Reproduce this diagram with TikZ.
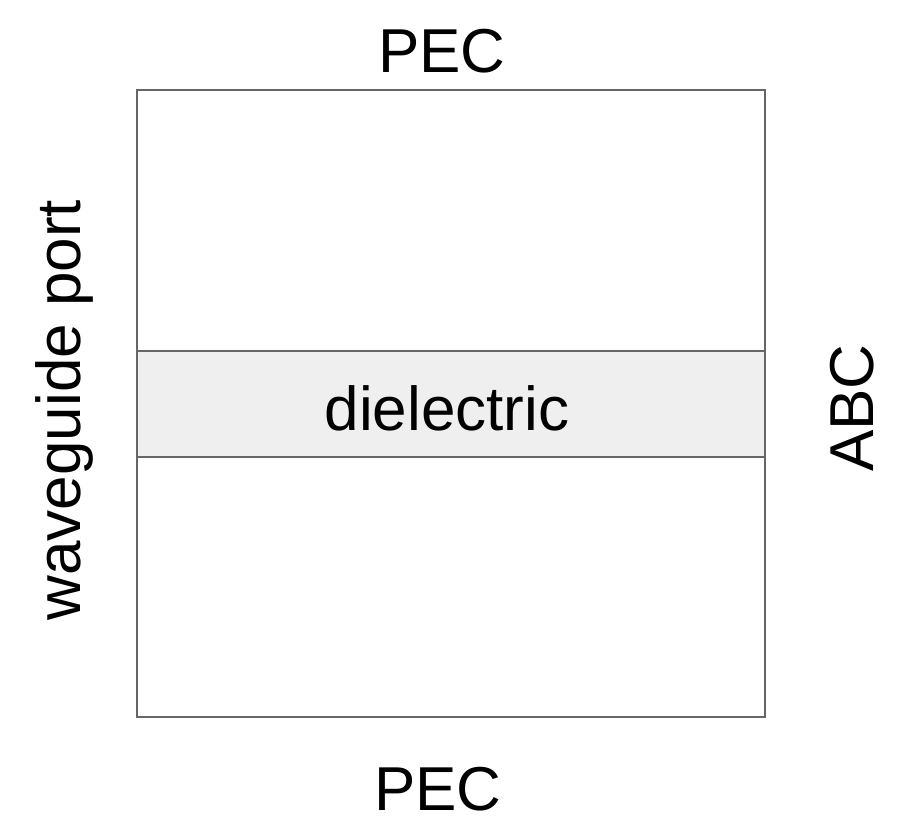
\documentclass[tikz,border=0pt]{standalone}
\usepackage{fontspec}
\setmainfont{Liberation Sans}
\usepackage{xcolor}
\usetikzlibrary{positioning}
\definecolor{edgegray}{HTML}{666666}
\definecolor{dielfill}{HTML}{EFEFEF}

\begin{document}
\begin{tikzpicture}[
  x=0.5pt, y=-0.5pt,
  label/.style={
    font=\fontsize{31}{37}\selectfont, inner sep=0pt, anchor=base
  },
  wall/.style={
    draw=edgegray, line width=1pt
  }
]
\useasboundingbox (0,0) rectangle (921,830);

% Dielectrico
\fill[dielfill] (137,351) rectangle (765,457);
\draw[wall] (137,351) -- (765,351);
\draw[wall] (137,457) -- (765,457);

% Dominio
\draw[wall] (137,90) rectangle (765,717);

% Etiquetas
\node[label] (pectop) at (442,72) {PEC};
\node[label] (pecbot) at (438,810) {PEC};
\node[label, rotate=90] (port) at (80,410) {waveguide port};
\node[label, rotate=90] (abc) at (873,408) {ABC};
\node[label] (diel) at (447,430) {dielectric};
\end{tikzpicture}
\end{document}
